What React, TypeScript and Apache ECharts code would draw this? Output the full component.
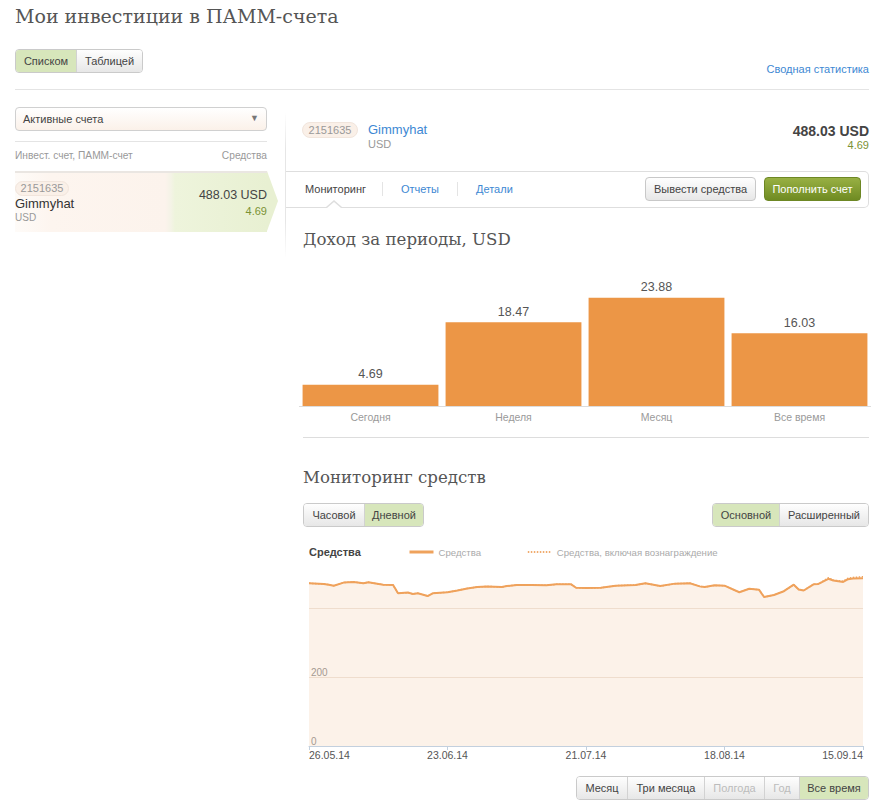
import React, { useEffect, useRef } from 'react';
import * as echarts from 'echarts';

// ---------- data ----------
const periodCategories = ['Сегодня', 'Неделя', 'Месяц', 'Все время'];
const periodIncome = [4.69, 18.47, 23.88, 16.03];

const dayIndex = [0, 3, 4, 5, 7, 9, 11, 12, 15, 17, 18, 20, 21, 22, 24, 25, 28, 30, 32, 34, 36, 39, 40, 42, 45, 48, 50, 53, 54, 56, 59, 62, 66, 68, 71, 74, 77, 79, 80, 82, 84, 87, 89, 91, 92, 94, 96, 98, 99, 100, 102, 103, 105, 106, 108, 109, 110, 112];
const equity = [473, 471, 469, 466, 475, 477, 473, 476, 469, 468, 444, 446, 442, 444, 436, 444, 447, 452, 458, 462, 464, 462, 465, 468, 468, 467, 470, 470, 460, 459, 460, 466, 468, 473, 465, 472, 473, 464, 462, 467, 466, 447, 457, 454, 433, 439, 450, 469, 455, 452, 470, 471, 486, 481, 477, 485, 487, 488];
const equityWithReward = [473, 471, 469, 466, 475, 477, 473, 476, 469, 468, 444, 446, 442, 444, 436, 444, 447, 452, 458, 462, 464, 462, 465, 468, 468, 467, 470, 470, 460, 459, 460, 466, 468, 473, 465, 472, 473, 464, 462, 467, 466, 447, 457, 454, 433, 439, 450, 469, 455, 452, 470, 471, 489, 482, 479, 488, 490, 492];
const dateTickLabels = ['26.05.14', '23.06.14', '21.07.14', '18.08.14', '15.09.14'];

// ---------- styles ----------
const SANS = '"Liberation Sans", Arial, Helvetica, sans-serif';
const SERIF = '"DejaVu Serif", Georgia, serif';
const BLUE = '#3d88d3';
const OLIVE = '#7b9235';
const ACTIVE_BG = '#d7e6bb';
const BTN_BG = 'linear-gradient(#fefefe, #e7e7e7)';
const LINE_COLOR = '#efa25c';

type TProps = { x: number; y: number; size?: number; color?: string; right?: boolean; bold?: boolean; font?: string; children: any };
function T({ x, y, size = 11, color = '#444', right = false, bold = false, font = SANS, children }: TProps) {
  const lh = Math.round(size * 1.25);
  const s: any = {
    position: 'absolute', top: y - lh / 2, fontSize: size, lineHeight: lh + 'px', color,
    fontFamily: font, fontWeight: bold ? 'bold' : 'normal', whiteSpace: 'nowrap',
  };
  if (right) s.right = 882 - x; else s.left = x;
  return <div style={s}>{children}</div>;
}

type SegItem = { label: string; w: number; active?: boolean; disabled?: boolean };
function Seg({ x, y, h, items }: { x: number; y: number; h: number; items: SegItem[] }) {
  return (
    <div style={{ position: 'absolute', left: x, top: y, height: h, display: 'flex', border: '1px solid #cacaca', borderRadius: 4, overflow: 'hidden', boxSizing: 'border-box' }}>
      {items.map((it, i) => (
        <div key={i} style={{
          width: it.w, height: h - 2, boxSizing: 'border-box', borderLeft: i > 0 ? '1px solid #d2d2d2' : 'none',
          background: it.active ? ACTIVE_BG : BTN_BG, color: it.disabled ? '#bcbcbc' : '#444',
          fontFamily: SANS, fontSize: 11, lineHeight: (h - 2) + 'px', textAlign: 'center', whiteSpace: 'nowrap',
        }}>{it.label}</div>
      ))}
    </div>
  );
}

function Line({ x, y, w, h, color = '#e4e4e4' }: { x: number; y: number; w: number; h: number; color?: string }) {
  return <div style={{ position: 'absolute', left: x, top: y, width: w, height: h, background: color }} />;
}

function Badge({ x, y, w, h }: { x: number; y: number; w: number; h: number }) {
  return (
    <div style={{ position: 'absolute', left: x, top: y, width: w, height: h, borderRadius: h / 2, background: '#faf0e8', border: '1px solid #f1e5dc', boxSizing: 'border-box', color: '#999', fontFamily: SANS, fontSize: 11, lineHeight: (h - 2) + 'px', textAlign: 'center' }}>2151635</div>
  );
}

export default function App() {
  const barRef = useRef<HTMLDivElement>(null);
  const lineRef = useRef<HTMLDivElement>(null);

  useEffect(() => {
    const bar = echarts.init(barRef.current!, null, { renderer: 'svg' });
    bar.setOption({
      animation: false,
      grid: { left: 0, right: 0, top: 10, bottom: 24 },
      xAxis: {
        type: 'category', data: periodCategories,
        axisLine: { lineStyle: { color: '#dcdcdc', width: 1 } },
        axisTick: { show: false },
        axisLabel: { color: '#9a9a9a', fontSize: 10.5, margin: 5, fontFamily: SANS },
      },
      yAxis: { type: 'value', min: 0, max: 30, show: false },
      series: [{
        type: 'bar', data: periodIncome, barCategoryGap: '5%',
        itemStyle: { color: '#ec9646' },
        label: { show: true, position: 'top', distance: 4, color: '#555', fontSize: 12.5, fontFamily: SANS, formatter: (p: any) => Number(p.value).toFixed(2) },
      }],
    });

    const line = echarts.init(lineRef.current!, null, { renderer: 'svg' });
    const s1 = dayIndex.map((d, i) => [d, equity[i]]);
    const s2 = dayIndex.map((d, i) => [d, equityWithReward[i]]);
    line.setOption({
      animation: false,
      title: { text: 'Средства', left: 6, top: 8, padding: 0, textStyle: { fontSize: 11, fontWeight: 'bold', color: '#444', fontFamily: SANS } },
      legend: {
        left: 105, top: 9, padding: 0, itemWidth: 24, itemHeight: 8, itemGap: 46,
        itemStyle: { opacity: 0 },
        textStyle: { color: '#aaa', fontSize: 9.6, fontFamily: SANS },
        data: [
          { name: 'Средства', lineStyle: { width: 3, color: LINE_COLOR } },
          { name: 'Средства, включая вознаграждение', lineStyle: { width: 1.6, type: [1.5, 1.5], color: '#eb9140' } },
        ],
      },
      grid: { left: 6, right: 10, top: 36, bottom: 22 },
      xAxis: {
        type: 'value', min: 0, max: 112, interval: 28,
        axisLine: { lineStyle: { color: '#c3d0de' } },
        axisTick: { show: true, length: 4, lineStyle: { color: '#c3d0de' } },
        splitLine: { show: false },
        axisLabel: {
          color: '#555', fontSize: 10.5, margin: 3, fontFamily: SANS,
          alignMinLabel: 'left', alignMaxLabel: 'right',
          formatter: (v: number) => dateTickLabels[Math.round(v / 28)] ?? '',
        },
      },
      yAxis: {
        type: 'value', min: 0, max: 500, interval: 200,
        axisLine: { show: false }, axisTick: { show: false },
        splitLine: { show: true, showMinLine: false, showMaxLine: false, lineStyle: { color: '#ecdfd5' } },
        axisLabel: {
          inside: true, showMaxLabel: false, verticalAlign: 'bottom', margin: 2, color: '#777', fontSize: 10, fontFamily: SANS,
          formatter: (v: number) => (v < 400 ? String(v) : ''),
        },
      },
      series: [
        {
          name: 'Средства', type: 'line', data: s1, symbol: 'none',
          lineStyle: { color: LINE_COLOR, width: 2 },
          itemStyle: { color: LINE_COLOR },
          areaStyle: { color: '#f5d9c0', opacity: 0.35 },
          z: 2,
        },
        {
          name: 'Средства, включая вознаграждение', type: 'line', data: s2, symbol: 'none',
          lineStyle: { color: LINE_COLOR, width: 1.5, type: 'dotted' },
          itemStyle: { color: LINE_COLOR },
          z: 3,
        },
      ],
    });

    return () => { bar.dispose(); line.dispose(); };
  }, []);

  return (
    <div style={{ position: 'absolute', left: 0, top: 0, width: 882, height: 804, background: '#fff', overflow: 'hidden' }}>
      {/* header */}
      <T x={15} y={16} size={19} color="#555" font={SERIF}>Мои инвестиции в ПАММ-счета</T>
      <Seg x={15} y={49} h={24} items={[{ label: 'Списком', w: 60, active: true }, { label: 'Таблицей', w: 66 }]} />
      <T x={869} y={69} size={11} color={BLUE} right>Сводная статистика</T>
      <Line x={15} y={89} w={854} h={1} />

      {/* left column */}
      <div style={{ position: 'absolute', left: 15, top: 107, width: 252, height: 24, boxSizing: 'border-box', border: '1px solid #d0d0d0', borderRadius: 4, background: 'linear-gradient(#ffffff, #fbf1e9)' }} />
      <T x={23} y={119} size={11} color="#444">Активные счета</T>
      <div style={{ position: 'absolute', left: 250, top: 113, fontSize: 9, color: '#777', fontFamily: SANS }}>▼</div>
      <Line x={15} y={141} w={252} h={1} />
      <T x={15} y={155} size={10.2} color="#999">Инвест. счет, ПАММ-счет</T>
      <T x={267} y={155} size={10.2} color="#999" right>Средства</T>

      <div style={{ position: 'absolute', left: 15, top: 171, width: 252, height: 61, borderTop: '2px solid #eae6e2', boxSizing: 'border-box', background: 'linear-gradient(90deg, #fefbf8 0px, #fdf5ef 36px, #fcf3ec 150px, #f4f3e6 156px, #eef4dc 160px, #e8f0d2 252px)' }} />
      <div style={{ position: 'absolute', left: 267, top: 171, width: 0, height: 0, borderTop: '30.5px solid transparent', borderBottom: '30.5px solid transparent', borderLeft: '11px solid #e8f0d2' }} />
      <Badge x={15} y={181} w={54} h={15} />
      <T x={15} y={204} size={13} color="#333">Gimmyhat</T>
      <T x={15} y={217} size={10} color="#999">USD</T>
      <T x={267} y={195} size={12.5} color="#444" right>488.03 USD</T>
      <T x={267} y={211} size={11} color={OLIVE} right>4.69</T>

      <div style={{ position: 'absolute', left: 285, top: 112, width: 1, height: 146, background: 'linear-gradient(#ffffff, #e6e6e6 25%, #e6e6e6 75%, #ffffff)' }} />

      {/* right panel header */}
      <Badge x={302} y={122} w={56} h={16} />
      <T x={368} y={130} size={13} color={BLUE}>Gimmyhat</T>
      <T x={368} y={144} size={11} color="#999">USD</T>
      <T x={869} y={131} size={14} color="#444" bold right>488.03 USD</T>
      <T x={869} y={145} size={11} color={OLIVE} right>4.69</T>

      {/* tabs */}
      <div style={{ position: 'absolute', left: 286, top: 171, width: 583, height: 37, boxSizing: 'border-box', borderTop: '1px solid #dedede', borderBottom: '1px solid #dedede', borderRight: '1px solid #dedede', borderRadius: '0 5px 5px 0' }} />
      <div style={{ position: 'absolute', left: 326, top: 200, width: 0, height: 0, borderLeft: '8px solid transparent', borderRight: '8px solid transparent', borderBottom: '7px solid #dedede' }} />
      <div style={{ position: 'absolute', left: 327, top: 202, width: 0, height: 0, borderLeft: '7px solid transparent', borderRight: '7px solid transparent', borderBottom: '6px solid #ffffff' }} />
      <T x={305} y={189} size={11} color="#444">Мониторинг</T>
      <Line x={382} y={182} w={1} h={14} />
      <T x={401} y={189} size={11} color={BLUE}>Отчеты</T>
      <Line x={457} y={182} w={1} h={14} />
      <T x={476} y={189} size={11} color={BLUE}>Детали</T>
      <div style={{ position: 'absolute', left: 645, top: 177, width: 111, height: 24, boxSizing: 'border-box', border: '1px solid #c8c8c8', borderRadius: 4, background: BTN_BG, color: '#444', fontFamily: SANS, fontSize: 11, lineHeight: '22px', textAlign: 'center' }}>Вывести средства</div>
      <div style={{ position: 'absolute', left: 764, top: 177, width: 97, height: 24, boxSizing: 'border-box', border: '1px solid #6d8724', borderRadius: 4, background: 'linear-gradient(#98b043, #6f8b22)', color: '#fff', fontFamily: SANS, fontSize: 11, lineHeight: '22px', textAlign: 'center' }}>Пополнить счет</div>

      {/* income chart */}
      <T x={303} y={239} size={16.6} color="#555" font={SERIF}>Доход за периоды, USD</T>
      <div ref={barRef} style={{ position: 'absolute', left: 299, top: 260, width: 572, height: 170 }} />
      <Line x={303} y={437} w={566} h={1} color="#dddddd" />

      {/* monitoring */}
      <T x={303} y={477} size={16.6} color="#555" font={SERIF}>Мониторинг средств</T>
      <Seg x={303} y={503} h={24} items={[{ label: 'Часовой', w: 60 }, { label: 'Дневной', w: 59, active: true }]} />
      <Seg x={712} y={503} h={24} items={[{ label: 'Основной', w: 66, active: true }, { label: 'Расширенный', w: 89 }]} />
      <div ref={lineRef} style={{ position: 'absolute', left: 303, top: 538, width: 570, height: 230 }} />
      <Seg x={576} y={776} h={24} items={[
        { label: 'Месяц', w: 50 }, { label: 'Три месяца', w: 77 }, { label: 'Полгода', w: 60, disabled: true },
        { label: 'Год', w: 35, disabled: true }, { label: 'Все время', w: 69, active: true },
      ]} />
    </div>
  );
}
